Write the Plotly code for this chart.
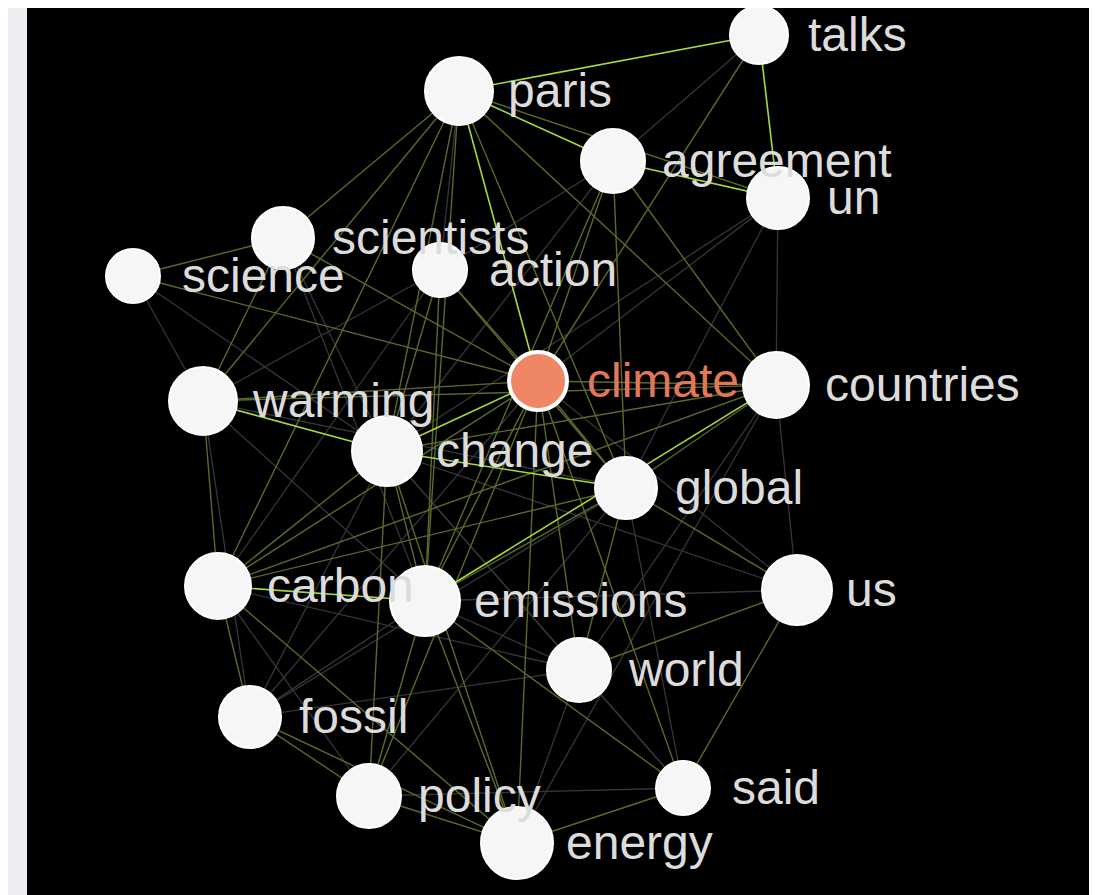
import plotly.graph_objects as go

# nodes: layout position, node size
words = ["talks", "paris", "agreement", "un", "scientists", "science", "action",
         "climate", "countries", "warming", "change", "global", "carbon",
         "emissions", "us", "world", "fossil", "policy", "said", "energy"]
pos_x = [759, 459, 613, 778, 283, 133, 440, 538, 776, 203, 387, 626, 218,
         425, 797, 579, 250, 369, 683, 517]
pos_y = [35, 91, 161, 198, 238, 276, 270, 381, 385, 401, 451, 488, 586,
         601, 590, 670, 717, 796, 788, 843]
node_size = [58, 68, 64, 62, 62, 54, 54, 58, 66, 68, 70, 62, 66,
             70, 70, 64, 62, 64, 54, 72]
focus_word = "climate"

# co-occurrence links: (a, b, strength 1..3)
links = [
    ("paris", "talks", 3), ("paris", "agreement", 3), ("paris", "un", 2),
    ("agreement", "un", 3), ("talks", "un", 3), ("talks", "agreement", 1),
    ("talks", "climate", 2), ("paris", "climate", 3), ("paris", "scientists", 2),
    ("paris", "warming", 2), ("paris", "change", 2), ("paris", "carbon", 2),
    ("paris", "emissions", 2), ("paris", "global", 2), ("paris", "countries", 2),
    ("paris", "action", 1), ("agreement", "climate", 2), ("agreement", "change", 1),
    ("agreement", "global", 2), ("agreement", "emissions", 2),
    ("agreement", "countries", 2), ("agreement", "action", 1),
    ("un", "countries", 1), ("un", "climate", 1), ("un", "change", 1),
    ("un", "global", 1), ("scientists", "science", 2), ("scientists", "climate", 2),
    ("scientists", "warming", 2), ("scientists", "change", 1),
    ("scientists", "emissions", 1), ("science", "climate", 2),
    ("science", "warming", 1), ("science", "change", 1), ("action", "climate", 2),
    ("action", "change", 2), ("action", "emissions", 2), ("action", "warming", 1),
    ("action", "global", 2), ("action", "carbon", 1), ("climate", "change", 3),
    ("climate", "warming", 2), ("climate", "countries", 2), ("climate", "global", 2),
    ("climate", "emissions", 2), ("climate", "carbon", 2), ("climate", "world", 2),
    ("climate", "energy", 2), ("climate", "policy", 2), ("climate", "said", 2),
    ("climate", "fossil", 1), ("climate", "us", 1), ("warming", "change", 3),
    ("warming", "carbon", 2), ("warming", "fossil", 1), ("warming", "emissions", 1),
    ("warming", "global", 1), ("warming", "countries", 2), ("change", "global", 3),
    ("change", "carbon", 2), ("change", "emissions", 2), ("change", "world", 1),
    ("change", "policy", 2), ("change", "energy", 2), ("change", "us", 1),
    ("change", "countries", 2), ("change", "said", 1), ("change", "fossil", 1),
    ("global", "countries", 2), ("global", "emissions", 2), ("global", "carbon", 2),
    ("global", "us", 2), ("global", "world", 2), ("global", "said", 1),
    ("global", "fossil", 1), ("global", "policy", 1), ("countries", "emissions", 3),
    ("countries", "us", 1), ("countries", "carbon", 2), ("countries", "world", 1),
    ("countries", "energy", 1), ("carbon", "emissions", 3), ("carbon", "fossil", 2),
    ("carbon", "energy", 2), ("carbon", "policy", 1), ("carbon", "world", 1),
    ("emissions", "world", 1), ("emissions", "policy", 2), ("emissions", "energy", 2),
    ("emissions", "said", 2), ("emissions", "fossil", 1), ("emissions", "us", 1),
    ("us", "world", 2), ("us", "said", 2), ("world", "fossil", 1),
    ("world", "energy", 1), ("world", "said", 1), ("fossil", "policy", 2),
    ("fossil", "energy", 2), ("policy", "energy", 2), ("policy", "said", 1),
    ("energy", "said", 2),
]

link_style = {1: ("#363636", 1.3), 2: ("#5a6a2a", 1.4), 3: ("#a6d93a", 1.6)}

idx = {w: i for i, w in enumerate(words)}

fig = go.Figure()

# edges, one trace per strength level (weak first so strong ones sit on top)
for level in (1, 2, 3):
    ex, ey = [], []
    for a, b, s in links:
        if s != level:
            continue
        ex += [pos_x[idx[a]], pos_x[idx[b]], None]
        ey += [pos_y[idx[a]], pos_y[idx[b]], None]
    color, width = link_style[level]
    fig.add_trace(go.Scatter(x=ex, y=ey, mode="lines",
                             line=dict(color=color, width=width),
                             hoverinfo="skip"))

fill = ["#ef8767" if w == focus_word else "#f6f6f6" for w in words]
border = [4 if w == focus_word else 2 for w in words]
fig.add_trace(go.Scatter(
    x=pos_x, y=pos_y, mode="markers",
    marker=dict(size=node_size, color=fill, opacity=1,
                line=dict(color="#ffffff", width=border)),
    text=words, hoverinfo="text",
))

# labels to the right of each node
for w, x, y in zip(words, pos_x, pos_y):
    fig.add_annotation(
        x=x, y=y, text=w, showarrow=False,
        xanchor="left", yanchor="middle", xshift=47, yshift=1,
        font=dict(size=48, color="#e0795a" if w == focus_word else "#dcdcdc",
                  family="Liberation Sans, Arial, sans-serif"),
    )

fig.update_xaxes(range=[27, 1097], visible=False, fixedrange=True)
fig.update_yaxes(range=[895, 8], visible=False, fixedrange=True)
fig.update_layout(
    width=1089, height=887,
    margin=dict(l=19, r=0, t=0, b=0),
    paper_bgcolor="#eceef1",
    plot_bgcolor="#000000",
    showlegend=False,
)

fig.write_html("out.html")
